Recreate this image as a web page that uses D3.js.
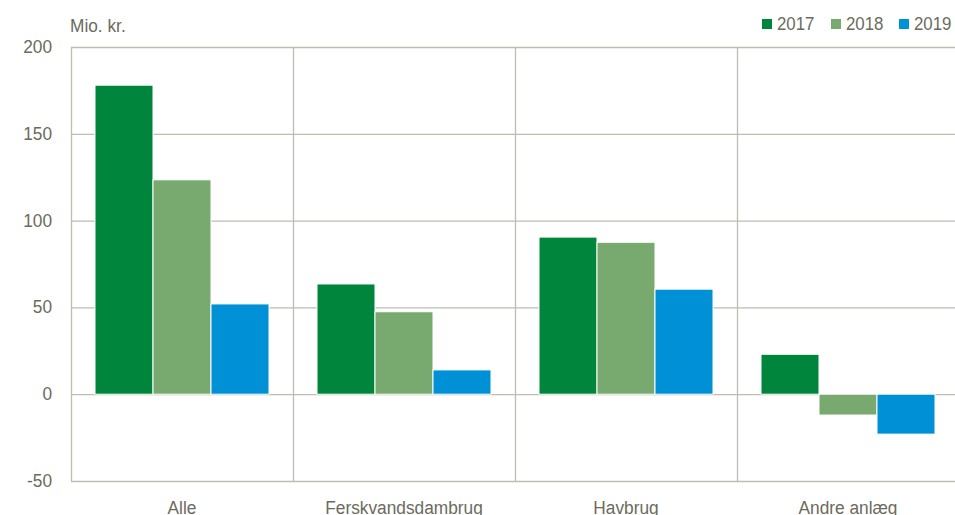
<!DOCTYPE html>
<html>
<head>
<meta charset="utf-8">
<script src="https://cdn.jsdelivr.net/npm/d3@7"></script>
<style>
body{margin:0;background:#fff;overflow:hidden;}
text{font-family:"Liberation Sans",Arial,sans-serif;fill:#6b6b5d;}
</style>
</head>
<body>
<div id="chart"></div>
<script>
var categories = ["Alle","Ferskvandsdambrug","Havbrug","Andre anlæg"];
var years = ["2017","2018","2019"];
var v2017 = [178, 63.5, 90.5, 23];
var v2018 = [123.5, 47.5, 87.5, -12];
var v2019 = [52, 14, 60.5, -23];
var yTicks = [200,150,100,50,0,-50];
var colors = ["#00853c","#78aa70","#0090d6"];

var width = 955, height = 515;
var left = 71, right = 959, top_y = 47, bottom_y = 481;
var squeeze = 0.91; // text in the original is a bit narrower

var series = [v2017, v2018, v2019];
var rows = [];
for(i=0;i<categories.length;i++){
	for(j=0;j<years.length;j++){
		rows.push({c:categories[i], y:years[j], v:series[j][i], k:j});
	}
}

var svg = d3.select("#chart").append("svg")
			.attr("width",width)
			.attr("height",height);

var y = d3.scaleLinear().domain([-50,200]).range([bottom_y,top_y]);
var x0 = d3.scaleBand().domain(categories).range([left,right]);
var x1 = d3.scaleBand().domain(years).range([24, x0.bandwidth()-24]);

// horizontal grid
svg.selectAll(".grid")
   .data(yTicks)
   .enter()
   .append("line")
   .attr("x1",left)
   .attr("x2",right)
   .attr("y1",function(d){return y(d)+0.5;})
   .attr("y2",function(d){return y(d)+0.5;})
   .attr("stroke","#bdbdb0")
   .attr("stroke-width",1.3);

// category separators
svg.selectAll(".sep")
   .data(categories)
   .enter()
   .append("line")
   .attr("x1",function(d){return x0(d)+0.5;})
   .attr("x2",function(d){return x0(d)+0.5;})
   .attr("y1",top_y)
   .attr("y2",bottom_y)
   .attr("stroke","#bdbdb0")
   .attr("stroke-width",1.3);

// bars
svg.selectAll(".bar")
   .data(rows)
   .enter()
   .append("rect")
   .attr("x",function(d){return x0(d.c)+x1(d.y);})
   .attr("width",x1.bandwidth())
   .attr("y",function(d){return y(Math.max(0,d.v));})
   .attr("height",function(d){return Math.abs(y(d.v)-y(0));})
   .attr("fill",function(d){return colors[d.k];})
   .attr("stroke","#ffffff")
   .attr("stroke-width",1);

function place(x, yy){
	return "translate(" + x + "," + yy + ") scale(" + squeeze + ",1)";
}

// y tick labels
svg.selectAll(".ytick")
   .data(yTicks)
   .enter()
   .append("text")
   .attr("transform",function(d){return place(52, y(d)+6);})
   .attr("text-anchor","end")
   .attr("font-size",19)
   .text(function(d){return d;});

// category labels
svg.selectAll(".xlab")
   .data(categories)
   .enter()
   .append("text")
   .attr("transform",function(d){return place(x0(d)+x0.bandwidth()/2, 514);})
   .attr("text-anchor","middle")
   .attr("font-size",19)
   .text(function(d){return d;});

svg.append("text")
   .attr("transform",place(70,32))
   .attr("font-size",19)
   .text("Mio. kr.");

// legend
var legendX = [762, 831, 899];
var lg = svg.selectAll(".leg")
			.data(years)
			.enter()
			.append("g")
			.attr("transform",function(d,i){return "translate(" + legendX[i] + ",18)";});
lg.append("rect")
  .attr("width",10)
  .attr("height",10)
  .attr("y",1)
  .attr("fill",function(d,i){return colors[i];});
lg.append("text")
  .attr("transform",place(15,12))
  .attr("font-size",18.5)
  .text(function(d){return d;});
</script>
</body>
</html>
